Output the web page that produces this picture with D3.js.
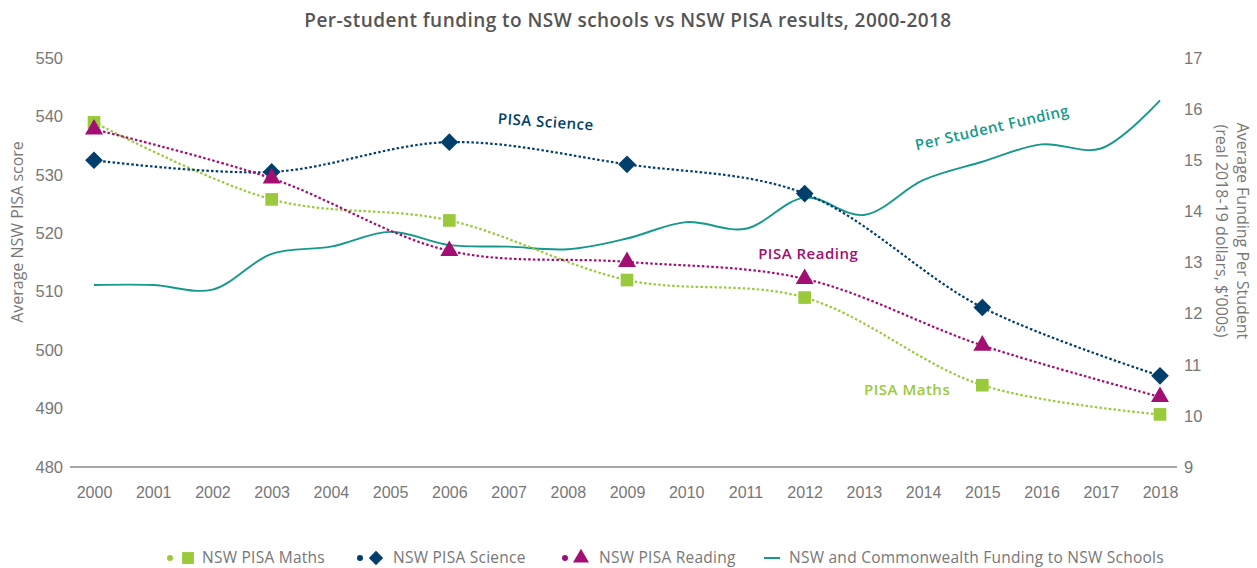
<!DOCTYPE html>
<html>
<head>
<meta charset="utf-8">
<script src="https://cdn.jsdelivr.net/npm/d3@7"></script>
<style>
  html, body { margin: 0; padding: 0; background: #fff; }
  svg { display: block; font-family: "Open Sans", "DejaVu Sans", sans-serif; }
</style>
</head>
<body>
<svg id="chart" width="1257" height="568"></svg>
<script>
// ---- data ----
const years = [2000, 2001, 2002, 2003, 2004, 2005, 2006, 2007, 2008, 2009, 2010, 2011, 2012, 2013, 2014, 2015, 2016, 2017, 2018];
const pisaYears = [2000, 2003, 2006, 2009, 2012, 2015, 2018];
const maths   = [539.0, 525.8, 522.2, 512.0, 509.0, 494.0, 489.0];
const science = [532.5, 530.5, 535.6, 531.8, 526.8, 507.3, 495.6];
const reading = [537.8, 529.4, 517.0, 515.1, 512.2, 500.8, 492.0];
const funding = [12.56, 12.56, 12.47, 13.17, 13.31, 13.60, 13.34, 13.31, 13.26, 13.47, 13.79, 13.66, 14.27, 13.93, 14.61, 14.97, 15.31, 15.23, 16.17];
const leftTicks = [480, 490, 500, 510, 520, 530, 540, 550];
const rightTicks = [9, 10, 11, 12, 13, 14, 15, 16, 17];
const legendLabels = ["NSW PISA Maths", "NSW PISA Science", "NSW PISA Reading", "NSW and Commonwealth Funding to NSW Schools"];

// ---- layout ----
const colors = { maths: "#9ACA3C", science: "#003F6B", reading: "#A20E72", funding: "#15998B" };
const svg = d3.select("#chart");

const x = d3.scaleLinear().domain([2000, 2018]).range([94, 1160]);
const yL = d3.scaleLinear().domain([480, 550]).range([467, 58]);
const yR = d3.scaleLinear().domain([9, 17]).range([467, 58]);

// title
svg.append("text")
  .attr("x", 628).attr("y", 20)
  .attr("text-anchor", "middle").attr("dominant-baseline", "central")
  .attr("font-size", 19).attr("font-weight", 600).attr("fill", "#555")
  .attr("letter-spacing", 0.45)
  .text("Per-student funding to NSW schools vs NSW PISA results, 2000-2018");

// bottom axis line
svg.append("line")
  .attr("x1", 70).attr("x2", 1177).attr("y1", yL(480)).attr("y2", yL(480))
  .attr("stroke", "#8a8a8a").attr("stroke-width", 1.5);

// x axis labels
const xAxis = d3.axisBottom(x).tickValues(years).tickFormat(d3.format("d")).tickSize(0).tickPadding(20);
const gx = svg.append("g").attr("transform", `translate(0,${yL(480)})`).call(xAxis);
gx.select(".domain").remove();
gx.selectAll("text").attr("font-size", 16).attr("fill", "#777").attr("font-family", null);

// left axis labels
const yAxisL = d3.axisLeft(yL).tickValues(leftTicks).tickSize(0).tickPadding(0);
const gl = svg.append("g").attr("transform", "translate(63,0)").call(yAxisL);
gl.select(".domain").remove();
gl.selectAll("text").attr("font-size", 16.5).attr("fill", "#777").attr("font-family", null);

// right axis labels
const yAxisR = d3.axisRight(yR).tickValues(rightTicks).tickSize(0).tickPadding(0);
const gr = svg.append("g").attr("transform", "translate(1184,0)").call(yAxisR);
gr.select(".domain").remove();
gr.selectAll("text").attr("font-size", 16.5).attr("fill", "#777").attr("font-family", null);

// axis titles
svg.append("text")
  .attr("transform", `translate(17,232) rotate(-90)`)
  .attr("text-anchor", "middle").attr("dominant-baseline", "central")
  .attr("font-size", 16).attr("fill", "#777")
  .text("Average NSW PISA score");
svg.append("text")
  .attr("transform", `translate(1243,231) rotate(90)`)
  .attr("text-anchor", "middle").attr("dominant-baseline", "central")
  .attr("font-size", 16).attr("fill", "#777")
  .text("Average Funding Per Student");
svg.append("text")
  .attr("transform", `translate(1222,231) rotate(90)`)
  .attr("text-anchor", "middle").attr("dominant-baseline", "central")
  .attr("font-size", 16).attr("fill", "#777")
  .text("(real 2018-19 dollars, $'000s)");

// funding line
const lineR = d3.line().x((d, i) => x(years[i])).y(d => yR(d)).curve(d3.curveCatmullRom.alpha(0.5));
svg.append("path").datum(funding)
  .attr("d", lineR).attr("fill", "none")
  .attr("stroke", colors.funding).attr("stroke-width", 1.9);

// PISA lines
const lineL = d3.line().x((d, i) => x(pisaYears[i])).y(d => yL(d)).curve(d3.curveCatmullRom.alpha(0.5));
const series = [
  { key: "maths", data: maths, sym: d3.symbolSquare, size: 160 },
  { key: "science", data: science, sym: d3.symbolDiamond2, size: 200 },
  { key: "reading", data: reading, sym: d3.symbolTriangle, size: 140 }
];
series.forEach(s => {
  svg.append("path").datum(s.data)
    .attr("d", lineL).attr("fill", "none")
    .attr("stroke", colors[s.key]).attr("stroke-width", 2.2)
    .attr("stroke-dasharray", "2.5,2.2");
});
series.forEach(s => {
  svg.append("g").selectAll("path").data(s.data).join("path")
    .attr("transform", (d, i) => `translate(${x(pisaYears[i])},${yL(d)})`)
    .attr("d", d3.symbol(s.sym, s.size))
    .attr("fill", colors[s.key]);
});

// series annotations (positioned in data units)
const notes = [
  { text: "PISA Science", yr: 2007.63, v: yL(539.2), col: colors.science, rot: 4 },
  { text: "PISA Reading", yr: 2012.06, v: yL(516.6), col: colors.reading, rot: 0 },
  { text: "PISA Maths", yr: 2013.73, v: yL(493.3), col: colors.maths, rot: 0 },
  { text: "Per Student Funding", yr: 2015.16, v: yR(15.65), col: colors.funding, rot: -13 }
];
notes.forEach(n => {
  svg.append("text")
    .attr("transform", `translate(${x(n.yr)},${n.v}) rotate(${n.rot})`)
    .attr("text-anchor", "middle").attr("dominant-baseline", "central")
    .attr("font-size", 15).attr("font-weight", 600).attr("fill", n.col)
    .attr("letter-spacing", 0.5)
    .text(n.text);
});

// legend
const legY = 557;
const legItems = [
  { key: "maths", sym: d3.symbolSquare, size: 140, dotX: 170, symX: 188, textX: 202 },
  { key: "science", sym: d3.symbolDiamond2, size: 130, dotX: 360, symX: 376, textX: 393 },
  { key: "reading", sym: d3.symbolTriangle, size: 110, dotX: 565, symX: 581, textX: 599 },
  { key: "funding", sym: null, dotX: null, symX: 772, textX: 789 }
];
legItems.forEach((it, i) => {
  const c = colors[it.key];
  if (it.sym) {
    svg.append("circle").attr("cx", it.dotX).attr("cy", legY + 1).attr("r", 3).attr("fill", c);
    svg.append("path").attr("transform", `translate(${it.symX},${legY + 1})`)
      .attr("d", d3.symbol(it.sym, it.size)).attr("fill", c);
  } else {
    svg.append("line").attr("x1", it.symX - 8).attr("x2", it.symX + 8)
      .attr("y1", legY + 1).attr("y2", legY + 1).attr("stroke", c).attr("stroke-width", 2);
  }
  svg.append("text").attr("x", it.textX).attr("y", legY)
    .attr("dominant-baseline", "central").attr("font-size", 15.5).attr("fill", "#777")
    .attr("letter-spacing", 0.25)
    .text(legendLabels[i]);
});
</script>
</body>
</html>
